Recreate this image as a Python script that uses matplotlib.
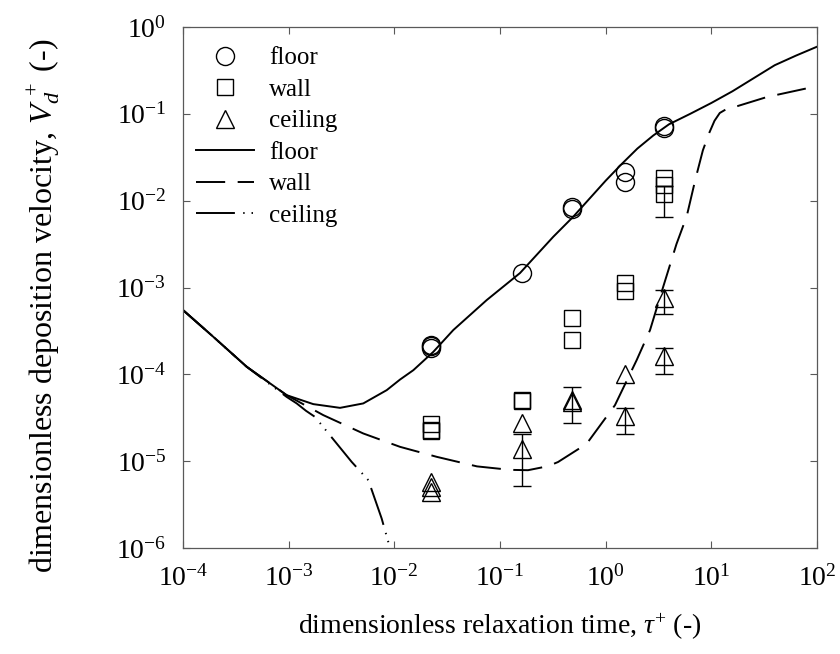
import numpy as np
import matplotlib
matplotlib.use("Agg")
import matplotlib.pyplot as plt
from matplotlib.lines import Line2D
from matplotlib.ticker import LogFormatterSciNotation, NullLocator

plt.rcParams['font.family'] = ['Liberation Serif', 'DejaVu Serif']
plt.rcParams['mathtext.fontset'] = 'custom'
plt.rcParams['mathtext.rm'] = 'Liberation Serif'
plt.rcParams['mathtext.it'] = 'Liberation Serif:italic'
plt.rcParams['mathtext.bf'] = 'Liberation Serif:bold'
plt.rcParams['lines.scale_dashes'] = False

# ---------------- data ----------------
# measured floor deposition (circles)
floor_x = [0.022, 0.022, 0.022, 0.16, 0.48, 0.48, 1.52, 1.52, 3.55, 3.55]
floor_y = [2.2e-4, 2.1e-4, 2.0e-4, 1.47e-3, 8.5e-3, 8.0e-3, 0.0216, 0.0165, 0.072, 0.068]

# measured wall deposition (squares)
wall_x = [0.022, 0.022, 0.022, 0.16, 0.16, 0.48, 0.48, 1.54, 1.54, 3.55, 3.55, 3.55]
wall_y = [2.7e-5, 2.3e-5, 2.2e-5, 5.1e-5, 4.9e-5, 4.4e-4, 2.5e-4, 1.12e-3, 9.0e-4, 0.0182, 0.0152, 0.0119]

# wall error bar
wall_err_x = [3.55]
wall_err_y = [0.0119]
wall_err_lo = [0.0065]
wall_err_hi = [0.0147]

# measured ceiling deposition (triangles)
ceil_x = [0.022, 0.022, 0.022, 0.16, 0.16, 0.48, 0.48, 1.54, 1.54, 3.55, 3.55]
ceil_y = [5.8e-6, 5.0e-6, 4.4e-6, 2.77e-5, 1.37e-5, 5.1e-5, 4.8e-5, 1.02e-4, 3.3e-5, 7.6e-4, 1.63e-4]

# ceiling error bars
ceil_err_x = [0.16, 0.48, 1.54, 3.55, 3.55]
ceil_err_y = [1.37e-5, 4.9e-5, 3.3e-5, 7.6e-4, 1.63e-4]
ceil_err_lo = [5.15e-6, 2.76e-5, 2.05e-5, 5.0e-4, 1.0e-4]
ceil_err_hi = [2.08e-5, 7.06e-5, 4.05e-5, 9.3e-4, 2.0e-4]

# model curves (log10 tau+, log10 Vd+)
floor_curve_lx = [-4.0, -3.713, -3.397, -3.019, -2.767, -2.514, -2.294, -2.072, -1.946, -1.82,
                  -1.631, -1.442, -1.126, -0.811, -0.496, -0.307, 0.0, 0.15, 0.3, 0.45, 0.6,
                  0.8, 1.0, 1.2, 1.4, 1.6, 1.8, 2.0]
floor_curve_ly = [-3.26, -3.568, -3.913, -4.24, -4.343, -4.386, -4.335, -4.182, -4.06, -3.952,
                  -3.741, -3.49, -3.145, -2.834, -2.416, -2.185, -1.77, -1.58, -1.40, -1.25, -1.12,
                  -1.0, -0.875, -0.74, -0.59, -0.44, -0.33, -0.227]

wall_curve_lx = [-4.0, -3.713, -3.397, -3.019, -2.672, -2.294, -1.946, -1.599, -1.218, -0.905,
                 -0.735, -0.546, -0.451, -0.18, 0.088, 0.293, 0.42, 0.545, 0.67, 0.767, 0.85,
                 0.92, 0.98, 1.03, 1.08, 1.15, 1.25, 1.527, 1.962, 2.0]
wall_curve_ly = [-3.26, -3.568, -3.913, -4.24, -4.47, -4.681, -4.835, -4.95, -5.06, -5.10,
                 -5.104, -5.058, -5.01, -4.80, -4.355, -3.837, -3.49, -2.99, -2.5, -2.18, -1.75,
                 -1.42, -1.22, -1.08, -0.99, -0.94, -0.91, -0.806, -0.691, -0.68]

ceil_curve_lx = [-4.0, -3.713, -3.397, -3.019, -2.924, -2.836, -2.751, -2.404, -2.246, -2.12, -2.041]
ceil_curve_ly = [-3.26, -3.568, -3.913, -4.26, -4.335, -4.42, -4.49, -5.008, -5.219, -5.66, -6.0]

x_ticks = [1e-4, 1e-3, 1e-2, 1e-1, 1e0, 1e1, 1e2]
y_ticks = [1e-6, 1e-5, 1e-4, 1e-3, 1e-2, 1e-1, 1e0]

legend_labels = ['floor', 'wall', 'ceiling', 'floor', 'wall', 'ceiling']
x_label = r'dimensionless relaxation time, $\tau^{+}$ (-)'
y_label = r'dimensionless deposition velocity, $V_d^{\,+}$ (-)'

# ---------------- figure ----------------
fig = plt.figure(figsize=(8.4, 6.54), dpi=100)
ax = fig.add_axes([183/840, 1-548/654, (817-183)/840, (548-27)/654])
ax.set_xscale('log')
ax.set_yscale('log')
ax.set_xlim(1e-4, 1e2)
ax.set_ylim(1e-6, 1e0)

lw = 1.4
wall_ls = (0, (21, 9))
ceil_ls = (0, (28, 6, 1, 5, 1, 6))
ax.plot(10**np.array(floor_curve_lx), 10**np.array(floor_curve_ly), color='black', lw=lw,
        linestyle='-')
ax.plot(10**np.array(wall_curve_lx), 10**np.array(wall_curve_ly), color='black', lw=lw,
        linestyle=wall_ls)
ax.plot(10**np.array(ceil_curve_lx), 10**np.array(ceil_curve_ly), color='black', lw=lw,
        linestyle=ceil_ls)

ebkw = dict(fmt='none', ecolor='black', elinewidth=1.0, capsize=6.5, capthick=1.0)
ax.errorbar(wall_err_x, wall_err_y,
            yerr=[np.array(wall_err_y) - np.array(wall_err_lo), np.array(wall_err_hi) - np.array(wall_err_y)],
            **ebkw)
ax.errorbar(ceil_err_x, ceil_err_y,
            yerr=[np.array(ceil_err_y) - np.array(ceil_err_lo), np.array(ceil_err_hi) - np.array(ceil_err_y)],
            **ebkw)

mkw = dict(linestyle='none', markerfacecolor='none', markeredgecolor='black', markeredgewidth=1.0)
ax.plot(floor_x, floor_y, marker='o', markersize=13, **mkw)
ax.plot(wall_x, wall_y, marker='s', markersize=11, **mkw)
ax.plot(ceil_x, ceil_y, marker='^', markersize=12.5, **mkw)

# ticks
ax.set_xticks(x_ticks)
ax.set_yticks(y_ticks)
ax.xaxis.set_minor_locator(NullLocator())
ax.yaxis.set_minor_locator(NullLocator())
ax.xaxis.set_major_formatter(LogFormatterSciNotation())
ax.yaxis.set_major_formatter(LogFormatterSciNotation())
ax.tick_params(which='major', direction='in', top=True, right=True, length=5, width=0.8,
               color='0.35', labelsize=20)
ax.tick_params(axis='x', pad=12)
ax.tick_params(axis='y', pad=12)
for s in ax.spines.values():
    s.set_color('0.35')
    s.set_linewidth(0.9)

fig.text(500/840, 1-627/654, x_label, fontsize=20, ha='center', va='center')
fig.text(44/840, 1-306/654, y_label, fontsize=23, ha='center', va='center', rotation=90)

# legend
handles = [
    Line2D([], [], marker='o', markersize=13, **mkw),
    Line2D([], [], marker='s', markersize=11, **mkw),
    Line2D([], [], marker='^', markersize=12.5, **mkw),
    Line2D([], [], color='black', lw=lw, linestyle='-'),
    Line2D([], [], color='black', lw=lw, linestyle=wall_ls),
    Line2D([], [], color='black', lw=lw, linestyle=ceil_ls),
]
ax.legend(handles, legend_labels, loc='upper left', bbox_to_anchor=(0.02, 0.962), frameon=False,
          fontsize=18, handlelength=2.35, handletextpad=0.6, labelspacing=0.36,
          borderpad=0, borderaxespad=0, numpoints=1)

fig.savefig('out.png', dpi=100)
